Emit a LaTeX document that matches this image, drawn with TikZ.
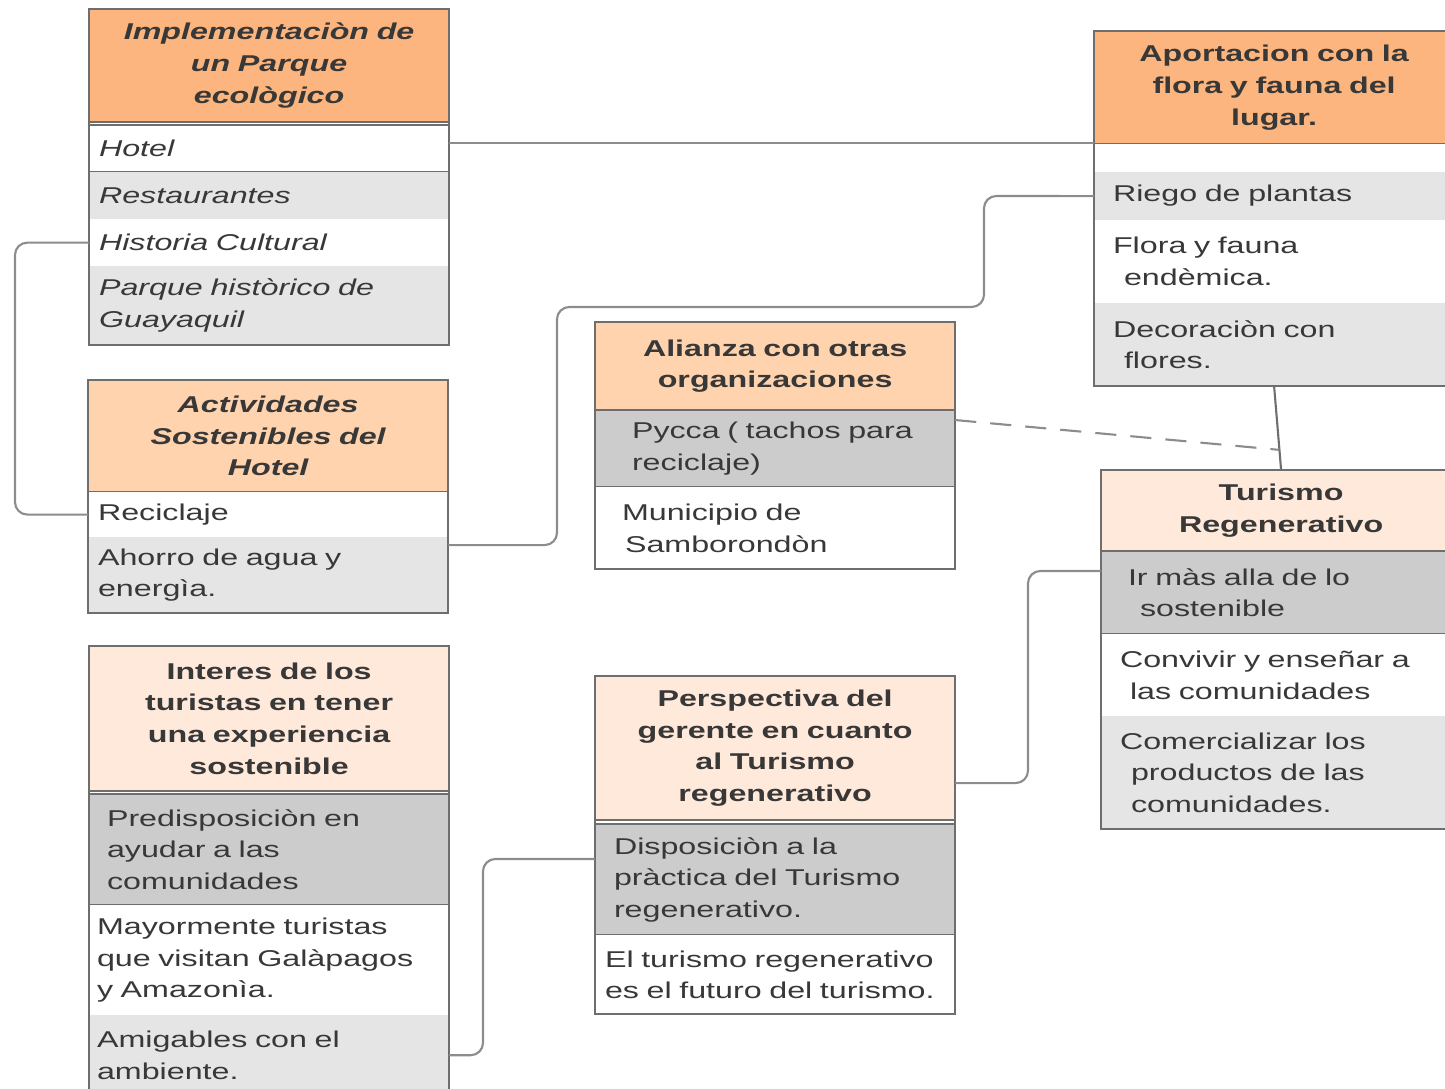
\documentclass[tikz,border=0pt]{standalone}
\usepackage{fontspec}
\setmainfont{Liberation Sans}[FakeStretch=1.41]
\usetikzlibrary{positioning}

\definecolor{hdrdark}{HTML}{FCB57E}
\definecolor{hdrmid}{HTML}{FFD3AD}
\definecolor{hdrlight}{HTML}{FFE9DB}
\definecolor{rowlight}{HTML}{E5E5E5}
\definecolor{rowdark}{HTML}{CCCCCC}
\definecolor{inkgrey}{HTML}{383838}
\definecolor{edgegrey}{HTML}{6E6E6E}
\definecolor{wiregrey}{HTML}{8C8C8C}

\newlength\px
\setlength\px{0.01cm}
\newcommand\ind[1]{\hspace*{#1\px}}
\newcommand\txtsize{\fontsize{6.5}{9}\selectfont}

\tikzset{
  every node/.style={outer sep=0pt, text=inkgrey, font=\txtsize},
  head/.style={draw=edgegrey, line width=0.6pt, fill=#1, text width=3.44cm,
    inner xsep=0.08cm, inner ysep=0pt, align=center, font=\txtsize\bfseries},
  row/.style={fill=#1, text width=3.44cm, inner xsep=0.08cm, inner ysep=0pt, align=left},
  darkrow/.style={row=rowdark, draw=edgegrey, line width=0.6pt},
  frame/.style={draw=edgegrey, line width=0.6pt},
  wire/.style={draw=wiregrey, line width=0.6pt, rounded corners=3.5pt},
}

\begin{document}
\begin{tikzpicture}[x=0.01cm, y=-0.01cm]
  \clip (0,0) rectangle (1445,1089);

  % Implementacion de un Parque ecologico
  \node[head=hdrdark, font=\txtsize\bfseries\itshape, minimum height=1.13cm, anchor=north west]
    (implHead) at (89,9) {Implementaciòn de\\un Parque\\ecològico};
  \node[row=white, draw=edgegrey, font=\txtsize\itshape, minimum height=0.47cm, below=0.03cm of implHead]
    (implHotel) {\ind{2}Hotel};
  \node[row=rowlight, font=\txtsize\itshape, minimum height=0.47cm, below=0pt of implHotel]
    (implRest) {\ind{2}Restaurantes};
  \node[row=white, font=\txtsize\itshape, minimum height=0.47cm, below=0pt of implRest]
    (implHist) {\ind{2}Historia Cultural};
  \node[row=rowlight, font=\txtsize\itshape, minimum height=0.79cm, below=0pt of implHist]
    (implParque) {\ind{2}Parque històrico de\\\ind{2}Guayaquil};
  \draw[frame] (implHead.north west) rectangle (implParque.south east);

  % Actividades Sostenibles del Hotel
  \node[head=hdrmid, font=\txtsize\bfseries\itshape, minimum height=1.12cm, anchor=north west]
    (hotHead) at (88,380) {Actividades\\Sostenibles del\\Hotel};
  \node[row=white, minimum height=0.45cm, below=0pt of hotHead] (hotReci) {\ind{2}Reciclaje};
  \node[row=rowlight, minimum height=0.76cm, below=0pt of hotReci]
    (hotAhorro) {\ind{2}Ahorro de agua y\\\ind{2}energìa.};
  \draw[frame] (hotHead.north west) rectangle (hotAhorro.south east);

  % Alianza con otras organizaciones
  \node[head=hdrmid, minimum height=0.88cm, anchor=north west]
    (aliHead) at (595,322) {Alianza con otras\\organizaciones};
  \node[darkrow, minimum height=0.77cm, below=0pt of aliHead]
    (aliPycca) {\ind{29}Pycca ( tachos para\\\ind{29}reciclaje)};
  \node[row=white, minimum height=0.82cm, below=0pt of aliPycca]
    (aliMuni) {\ind{19}Municipio de\\\ind{22}Samborondòn};
  \draw[frame] (aliHead.north west) rectangle (aliMuni.south east);

  % Aportacion con la flora y fauna del lugar
  \node[head=hdrdark, minimum height=1.13cm, anchor=north west]
    (aporHead) at (1094,31) {Aportacion con la\\flora y fauna del\\lugar.};
  \node[row=white, minimum height=0.28cm, below=0pt of aporHead] (aporBlank) {};
  \node[row=rowlight, minimum height=0.48cm, below=0pt of aporBlank]
    (aporRiego) {\ind{11}Riego de plantas};
  \node[row=white, minimum height=0.83cm, below=0pt of aporRiego]
    (aporFlora) {\ind{11}Flora y fauna\\\ind{22}endèmica.};
  \node[row=rowlight, minimum height=0.83cm, below=0pt of aporFlora]
    (aporDeco) {\ind{11}Decoraciòn con\\\ind{22}flores.};
  \draw[frame] (aporHead.north west) rectangle (aporDeco.south east);

  % Turismo Regenerativo
  \node[head=hdrlight, minimum height=0.81cm, anchor=north west]
    (turHead) at (1101,470) {Turismo\\Regenerativo};
  \node[darkrow, minimum height=0.83cm, below=0pt of turHead]
    (turIr) {\ind{19}Ir màs alla de lo\\\ind{31}sostenible};
  \node[row=white, minimum height=0.82cm, below=0pt of turIr]
    (turConv) {\ind{11}Convivir y enseñar a\\\ind{21}las comunidades};
  \node[row=rowlight, minimum height=1.13cm, below=0pt of turConv]
    (turCom) {\ind{11}Comercializar los\\\ind{22}productos de las\\\ind{22}comunidades.};
  \draw[frame] (turHead.north west) rectangle (turCom.south east);

  % Interes de los turistas
  \node[head=hdrlight, minimum height=1.45cm, anchor=north west]
    (intHead) at (89,646) {Interes de los\\turistas en tener\\una experiencia\\sostenible};
  \node[darkrow, minimum height=1.11cm, below=0.03cm of intHead]
    (intPred) {\ind{10}Predisposiciòn en\\\ind{10}ayudar a las\\\ind{10}comunidades};
  \node[row=white, minimum height=1.10cm, below=0pt of intPred]
    (intMayor) {Mayormente turistas\\que visitan Galàpagos\\y Amazonìa.};
  \node[row=rowlight, minimum height=0.80cm, below=0pt of intMayor]
    (intAmig) {Amigables con el\\ambiente.};
  \draw[frame] (intHead.north west) rectangle (intAmig.south east);

  % Perspectiva del gerente
  \node[head=hdrlight, minimum height=1.44cm, anchor=north west]
    (perHead) at (595,676) {Perspectiva del\\gerente en cuanto\\al Turismo\\regenerativo};
  \node[darkrow, minimum height=1.11cm, below=0.04cm of perHead]
    (perDisp) {\ind{11}Disposiciòn a la\\\ind{11}pràctica del Turismo\\\ind{11}regenerativo.};
  \node[row=white, minimum height=0.79cm, below=0pt of perDisp]
    (perFut) {\ind{2}El turismo regenerativo\\\ind{2}es el futuro del turismo.};
  \draw[frame] (perHead.north west) rectangle (perFut.south east);

  % connectors
  \draw[wire] ([yshift=-0.18cm]implHotel.north east) -- ([yshift=-0.18cm]implHotel.north east -| aporBlank.west);
  \draw[wire] (implHist.west) -- ++(-74,0) |- (hotReci.west);
  \draw[wire] ([yshift=-0.08cm]hotAhorro.north east) -| (557,307) -| (984,196) -- (aporRiego.west);
  \draw[wire, draw=edgegrey] (aporDeco.south) -- (turHead.north) coordinate[pos=0.76] (tie);
  \draw[wire, dashed, dash pattern=on 6pt off 4pt] ([yshift=-0.1cm]aliPycca.north east) -- (tie);
  \draw[wire] ([yshift=-0.35cm]perHead.east) -| (1028,571) -- (1028,571 -| turIr.west);
  \draw[wire] (intAmig.east) -| (483,859) -- (483,859 -| perDisp.west);
\end{tikzpicture}
\end{document}
